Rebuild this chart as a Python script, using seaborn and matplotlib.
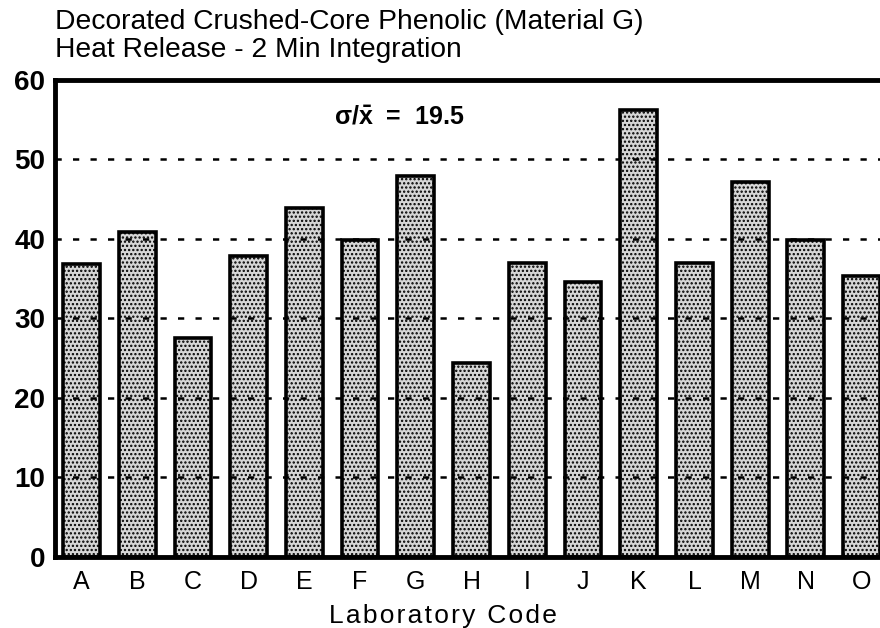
import matplotlib
matplotlib.use("Agg")
import matplotlib.pyplot as plt
import seaborn as sns
import pandas as pd

# Heat release per laboratory, 2 minute integration
labs = ["A", "B", "C", "D", "E", "F", "G", "H", "I", "J", "K", "L", "M", "N", "O"]
heat_release = [36.9, 40.8, 27.5, 37.9, 43.9, 39.9, 47.9, 24.4, 37.0, 34.6, 56.2, 37.0, 47.2, 39.9, 35.3]
y_ticks = [0, 10, 20, 30, 40, 50, 60]
cov_text = r"$\mathbf{\sigma/\bar{x}}$  =  19.5"
title_text = "Decorated Crushed-Core Phenolic (Material G)\nHeat Release - 2 Min Integration"
x_title = "Laboratory Code"

df = pd.DataFrame({"lab": labs, "value": heat_release})

sns.set_style("white")
plt.rcParams["font.family"] = ["Liberation Sans", "DejaVu Sans"]
plt.rcParams["text.color"] = "black"
plt.rcParams["axes.labelcolor"] = "black"
plt.rcParams["xtick.color"] = "black"
plt.rcParams["ytick.color"] = "black"
plt.rcParams["mathtext.fontset"] = "custom"
plt.rcParams["mathtext.rm"] = "Liberation Sans"
plt.rcParams["mathtext.it"] = "Liberation Sans"
plt.rcParams["mathtext.bf"] = "Liberation Sans:bold"
plt.rcParams["hatch.color"] = "#2e2e2e"
plt.rcParams["hatch.linewidth"] = 1.1

fig = plt.figure(figsize=(8.8, 6.28), dpi=100)
ax = fig.add_axes([0.0625, 0.113, 0.9375, 0.760])

sns.barplot(data=df, x="lab", y="value", ax=ax, color="#d6d6d6",
            edgecolor="black", linewidth=2.6, width=0.66, hatch="....",
            saturation=1, zorder=1)

ax.set_ylim(0, 60)
ax.set_xlim(-0.475, 14.33)
ax.set_yticks(y_ticks)
ax.set_yticklabels([str(t) for t in y_ticks], fontsize=20, fontweight="bold")
ax.tick_params(axis="both", length=0)
ax.tick_params(axis="y", pad=7)
ax.tick_params(axis="x", labelsize=18, pad=9)

# dotted reference lines drawn over the bars
for t in y_ticks[1:-1]:
    ax.axhline(t, color="black", lw=1.8, ls=(0, (2.5, 4.5)), zorder=3)

for side in ["left", "top", "bottom"]:
    ax.spines[side].set_linewidth(3.5)
    ax.spines[side].set_color("black")
ax.spines["right"].set_visible(False)

# letter-spaced axis title
ax.set_xlabel("\u200a".join(x_title), fontsize=19)
ax.xaxis.set_label_coords(0.47, -0.098)
ax.set_ylabel("")

ax.text(5.7, 55.3, cov_text, fontsize=18, ha="center", va="center", fontweight="bold")

fig.text(0.0625, 1 - 9 / 628, title_text, fontsize=20.3, ha="left", va="top", linespacing=1.12)

fig.savefig("out.png", dpi=100)
